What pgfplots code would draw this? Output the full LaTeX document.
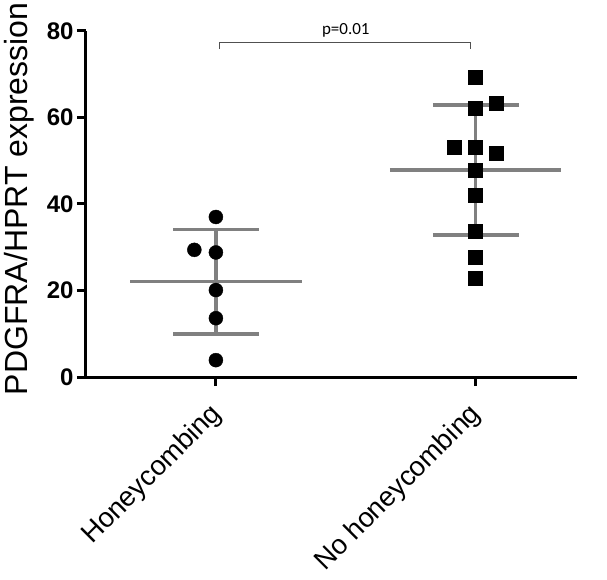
\documentclass[border=0pt]{standalone}
\usepackage{fontspec}
\setmainfont{Liberation Sans}
\newfontfamily\carlito{Carlito}
\usepackage{pgfplots}
\pgfplotsset{compat=1.18}
\definecolor{bargray}{RGB}{128,128,128}
\definecolor{brk}{RGB}{80,80,80}
\begin{document}
\begin{tikzpicture}
\begin{axis}[name=ax,
  scale only axis, width=491pt, height=346pt,
  xmin=0.5, xmax=2.39, ymin=0, ymax=80,
  axis x line*=bottom, axis y line*=left,
  axis line style={-, line width=3pt, black},
  xtick={1,2}, xticklabels={Honeycombing, No honeycombing},
  ytick={0,20,40,60,80},
  tick align=outside, major tick length=9pt,
  tick style={line width=3pt, black},
  /pgf/number format/assume math mode=true,
  y tick label style={font=\fontsize{24}{26}\selectfont\bfseries},
  x tick label style={xshift=-8pt, yshift=-12pt, rotate=45, anchor=north east, font=\fontsize{27.5}{30}\selectfont, inner sep=2pt},
  ylabel={PDGFRA/HPRT expression},
  every axis y label/.style={at={(axis description cs:-0.1059,0.515)}, rotate=90, anchor=south, inner sep=0pt, font=\fontsize{32}{34}\selectfont},
  clip=false,
]
\addplot[only marks, mark=*, mark size=7pt, black] coordinates {
  (1,37.0) (0.917,29.4) (1,28.8) (1,20.1) (1,13.6) (1,3.9)
};
\addplot[only marks, mark=square*, mark size=7pt, black] coordinates {
  (2,69.4) (2,62.1) (2.08,63.3) (1.919,53.1) (2,53.1) (2.08,51.7)
  (2,47.9) (2,42.1) (2,33.6) (2,27.8) (2,22.8)
};
% group 1 mean and SD
\addplot[bargray, line width=3.5pt] coordinates {(0.67,22.1) (1.33,22.1)};
\addplot[bargray, line width=3.5pt] coordinates {(0.835,34.1) (1.165,34.1)};
\addplot[bargray, line width=3.5pt] coordinates {(0.835,10.0) (1.165,10.0)};
\addplot[bargray, line width=3.5pt] coordinates {(1,10.0) (1,34.1)};
% group 2 mean and SD
\addplot[bargray, line width=3.5pt] coordinates {(1.67,47.9) (2.33,47.9)};
\addplot[bargray, line width=3.5pt] coordinates {(1.835,62.9) (2.165,62.9)};
\addplot[bargray, line width=3.5pt] coordinates {(1.835,32.8) (2.165,32.8)};
\addplot[bargray, line width=3.5pt] coordinates {(2,32.8) (2,62.9)};
% significance bracket
\addplot[brk, line width=1pt] coordinates {(1.015,75.8) (1.015,77.3) (1.98,77.3) (1.98,75.8)};
\node[anchor=base, font=\carlito\fontsize{17}{19}\selectfont, inner sep=0pt] at (axis cs:1.5,79.3) {p=0.01};
\end{axis}
\pgfresetboundingbox
\path ([shift={(-86pt,-203pt)}]ax.south west) rectangle ([shift={(30pt,31pt)}]ax.north east);
\end{tikzpicture}
\end{document}
